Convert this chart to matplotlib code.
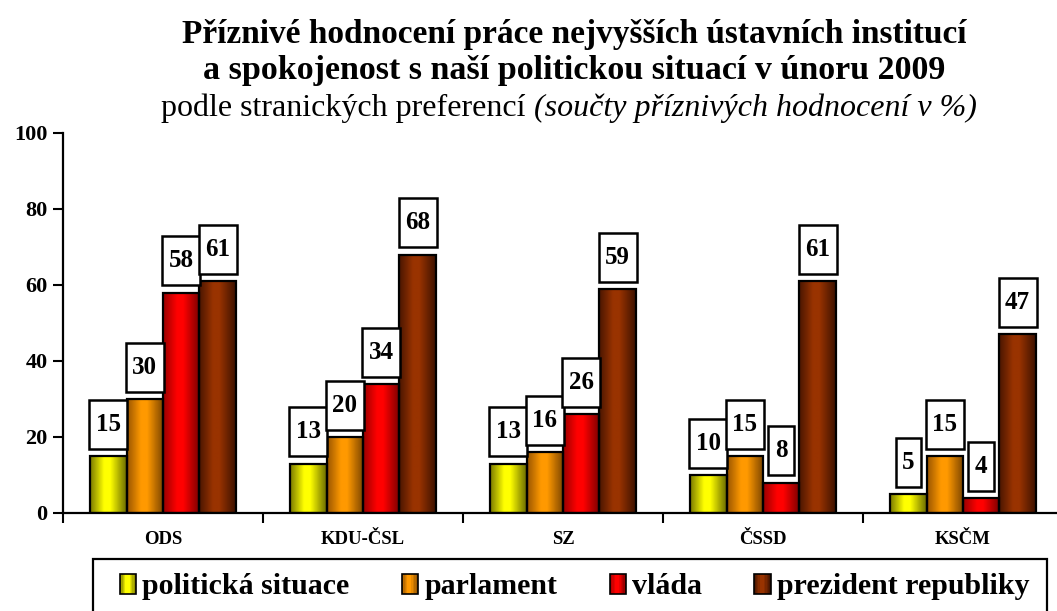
import numpy as np
import matplotlib
matplotlib.use('Agg')
import matplotlib.pyplot as plt
from matplotlib.colors import LinearSegmentedColormap
from matplotlib.legend_handler import HandlerBase
from matplotlib.patches import Rectangle
from matplotlib.path import Path

plt.rcParams['font.family'] = ['Liberation Serif', 'DejaVu Serif']

# ---------------------------------------------------------------
# Data
# ---------------------------------------------------------------
parties = ['ODS', 'KDU-ČSL', 'SZ', 'ČSSD', 'KSČM']
series_names = ['politická situace', 'parlament', 'vláda', 'prezident republiky']
situace = [15, 13, 13, 10, 5]
parlament = [30, 20, 16, 15, 15]
vlada = [58, 34, 26, 8, 4]
prezident = [61, 68, 59, 61, 47]
y_ticks = [0, 20, 40, 60, 80, 100]

title_1 = 'Příznivé hodnocení práce nejvyšších ústavních institucí'
title_2 = 'a spokojenost s naší politickou situací v únoru 2009'
sub_regular = 'podle stranických preferencí '
sub_italic = '(součty příznivých hodnocení v %)'

# cylinder-like shading: dark edge -> bright -> dark edge
shades = [
    ['#7a7a00', '#ffff00', '#ffff00', '#6a6a00'],
    ['#9a5600', '#ff9900', '#ff9900', '#7a4400'],
    ['#9a0000', '#ff0000', '#ff0000', '#7a0000'],
    ['#4a1600', '#993300', '#993300', '#3e1200'],
]
cmaps = [LinearSegmentedColormap.from_list(f'g{i}', list(zip([0.0, 0.38, 0.55, 1.0], c)))
         for i, c in enumerate(shades)]


def tall_box(x0, y0, width, height, mutation_size):
    # label box: narrow side padding, tall top/bottom padding
    px = 0.26 * mutation_size
    py = 0.52 * mutation_size
    verts = [(x0 - px, y0 - py), (x0 + width + px, y0 - py),
             (x0 + width + px, y0 + height + py), (x0 - px, y0 + height + py),
             (x0 - px, y0 - py)]
    return Path(verts, closed=True)


# ---------------------------------------------------------------
# Figure
# ---------------------------------------------------------------
W, H = 1057, 611
fig = plt.figure(figsize=(W / 100, H / 100), dpi=100)
ax = fig.add_axes([63 / W, (H - 513) / H, 1000 / W, 380 / H])

x = np.arange(len(parties))
width = 0.182
offsets = [-1.5 * width, -0.5 * width, 0.5 * width, 1.5 * width]
all_series = [situace, parlament, vlada, prezident]

grad = np.linspace(0, 1, 64).reshape(1, -1)
for vals, off, cmap in zip(all_series, offsets, cmaps):
    bars = ax.bar(x + off, vals, width, facecolor='none', edgecolor='black',
                  linewidth=1.6, zorder=3)
    for rect, v in zip(bars, vals):
        x0 = rect.get_x()
        img = ax.imshow(grad, extent=[x0, x0 + width, 0, v], aspect='auto',
                        cmap=cmap, zorder=2, interpolation='bilinear')
        img.set_clip_path(rect)
        ax.annotate(str(v), xy=(x0 + width / 2, v), xytext=(0, 14.5),
                    textcoords='offset points', ha='center', va='bottom',
                    fontsize=18, fontweight='bold', zorder=4,
                    bbox=dict(boxstyle=tall_box, facecolor='white',
                              edgecolor='black', linewidth=1.8))

ax.set_xlim(-0.5, len(parties) - 0.5)
ax.set_ylim(0, 100)
ax.set_yticks(y_ticks)
ax.set_yticklabels([str(t) for t in y_ticks], fontsize=16, fontweight='bold')

# boundary ticks, labels in the middle
ax.set_xticks(np.arange(len(parties) + 1) - 0.5)
ax.set_xticklabels([])
ax.set_xticks(x, minor=True)
ax.set_xticklabels(parties, minor=True, fontsize=13.5, fontweight='bold')
ax.tick_params(axis='x', which='minor', length=0, pad=13)
ax.tick_params(axis='x', which='major', length=7, width=1.5, direction='out')
ax.tick_params(axis='y', length=7, width=1.5, direction='out', pad=4)

for s in ['top', 'right']:
    ax.spines[s].set_visible(False)
for s in ['left', 'bottom']:
    ax.spines[s].set_linewidth(1.6)

# ---------------------------------------------------------------
# Titles
# ---------------------------------------------------------------
cx = 574 / W
fig.text(cx, 1 - 34 / H, title_1, ha='center', va='center', fontsize=24, fontweight='bold')
fig.text(cx, 1 - 71 / H, title_2, ha='center', va='center', fontsize=24.5, fontweight='bold')

t1 = fig.text(0, 1 - 108 / H, sub_regular, ha='left', va='center', fontsize=23)
t2 = fig.text(0, 1 - 108 / H, sub_italic, ha='left', va='center', fontsize=23, style='italic')
r = fig.canvas.get_renderer()
w1 = t1.get_window_extent(r).width
w2 = t2.get_window_extent(r).width
start = 569 - (w1 + w2) / 2
t1.set_x(start / W)
t2.set_x((start + w1) / W)


# ---------------------------------------------------------------
# Legend with gradient squares
# ---------------------------------------------------------------
class GradHandler(HandlerBase):
    def __init__(self, cmap):
        super().__init__()
        self.cmap = cmap

    def create_artists(self, legend, orig_handle, xdescent, ydescent,
                       width, height, fontsize, trans):
        x0 = -xdescent
        y0 = -ydescent
        n = 12
        arts = []
        for i in range(n):
            arts.append(Rectangle((x0 + i * width / n, y0), width / n, height,
                                  facecolor=self.cmap((i + 0.5) / n),
                                  edgecolor='none', transform=trans))
        arts.append(Rectangle((x0, y0), width, height, fill=False, edgecolor='black',
                              linewidth=1.2, transform=trans))
        return arts


handles = [Rectangle((0, 0), 1, 1) for _ in series_names]
leg = fig.legend(handles, series_names, ncol=4, loc='center left',
                 bbox_to_anchor=(120 / W, (H - 587) / H),
                 prop={'size': 21.5, 'weight': 'bold'},
                 handler_map={h: GradHandler(c) for h, c in zip(handles, cmaps)},
                 handlelength=0.55, handleheight=0.62, handletextpad=0.2,
                 columnspacing=1.75, frameon=False,
                 borderpad=0, borderaxespad=0)

# legend frame (runs past the bottom edge, as in the source)
fig.patches.append(Rectangle((93 / W, -0.05), (1047 - 93) / W, (H - 559) / H + 0.05,
                             transform=fig.transFigure, fill=False,
                             edgecolor='black', linewidth=1.6, zorder=0))

fig.savefig('out.png', dpi=100)
